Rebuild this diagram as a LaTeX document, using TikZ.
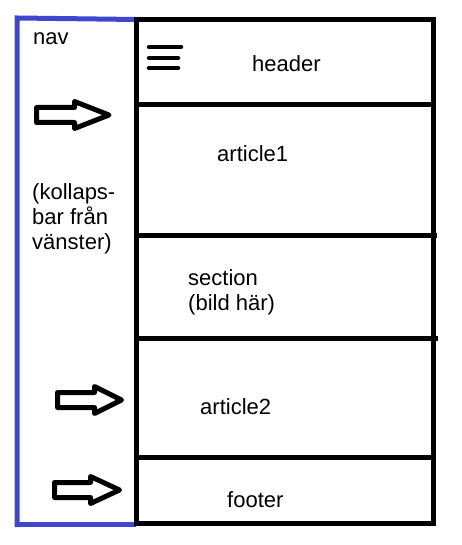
\documentclass[tikz,border=0pt]{standalone}
\usepackage{fontspec}
\setmainfont{Liberation Sans}
\definecolor{navblue}{RGB}{63,72,204}

\begin{document}
\begin{tikzpicture}[x=1pt,y=-1pt,
    txt/.style={anchor=base west,inner sep=0pt,align=left,font=\fontsize{22}{25}\selectfont},
    edge/.style={line width=5pt},
    navarrow/.style={line width=5pt,line join=round}]
  \useasboundingbox (0,0) rectangle (461,545);
  % nav strip
  \draw[navblue,edge] (136,19.5) -- (17,18) -- (17,527);
  \draw[navblue,edge] (17,524.5) -- (136,524.5);
  % page box
  \draw[edge] (136,20) rectangle (433,523);
  \draw[edge] (136,105) -- (433,105);
  \draw[edge] (136,235) -- (437,235);
  \draw[edge] (136,338) -- (438,338);
  \draw[edge] (136,457) -- (433,457);
  % menu icon
  \foreach \y/\x in {47/181,58/178,68/178}
    \draw[line width=4.5pt,line cap=round] (149,\y) -- (\x,\y);
  % texts
  \node[txt] (nav) at (33,45) {nav};
  \node[txt] (header) at (252,72) {header};
  \node[txt] (article1) at (217,162) {article1};
  \node[txt] (kollaps) at (32,249) {(kollaps-\\bar från\\vänster)};
  \node[txt] (section) at (188,310) {section\\(bild här)};
  \node[txt] (article2) at (200,414) {article2};
  \node[txt] (footer) at (227,507) {footer};
  % arrows
  \foreach \a/\h/\t/\c in {36.5/74.5/109/115, 57.5/94.5/121.5/400, 54.5/90.5/119.5/490}
    \draw[navarrow] (\a,\c-7.5) -- (\h,\c-7.5) -- (\h,\c-13.5) -- (\t,\c)
      -- (\h,\c+13.5) -- (\h,\c+7.5) -- (\a,\c+7.5) -- cycle;
\end{tikzpicture}
\end{document}
